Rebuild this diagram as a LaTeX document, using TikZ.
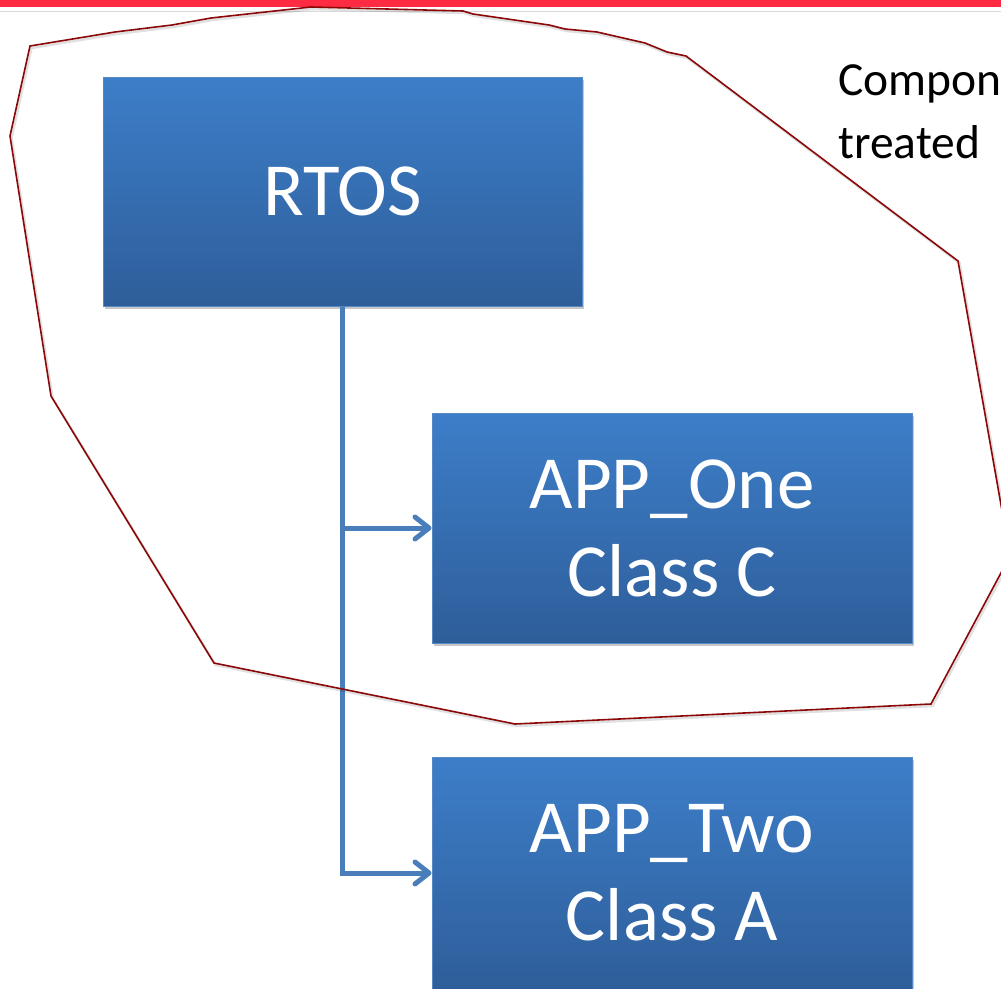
\documentclass[tikz,border=0pt]{standalone}
\usepackage{fontspec}
\setmainfont{Carlito}
\usetikzlibrary{arrows.meta,shadows}

\definecolor{barred}{RGB}{255,43,66}
\definecolor{rulegrey}{RGB}{217,217,217}
\definecolor{boxtop}{RGB}{61,126,201}
\definecolor{boxbottom}{RGB}{46,94,154}
\definecolor{boxedge}{RGB}{86,136,196}
\definecolor{linkblue}{RGB}{74,126,187}
\definecolor{hull}{RGB}{140,8,8}

\tikzset{
  block/.style={draw=boxedge, line width=1pt, top color=boxtop, bottom color=boxbottom,
    text=white, align=center, inner sep=0pt,
    font=\fontsize{75}{88}\selectfont,
    drop shadow={shadow xshift=2pt, shadow yshift=-3pt, opacity=0.22, fill=black}},
  link/.style={draw=linkblue, line width=5pt,
    -{Straight Barb[length=14pt, width=22pt, round]}},
  boundary/.style={draw=hull, line width=1.6pt, line join=miter},
  note/.style={anchor=base west, inner sep=0pt, text=black,
    font=\fontsize{47.5}{63}\selectfont}
}

\begin{document}
\begin{tikzpicture}[x=1pt, y=-1pt]
\useasboundingbox (0,0) rectangle (1001,988);
\fill[white] (0,0) rectangle (1001,988);
\clip (0,0) rectangle (1001,988);

% header strip and separator rule
\fill[barred] (0,0) rectangle (1001,6.5);
\draw[rulegrey, line width=1pt] (0,11) -- (1001,11);

% side note, running past the right edge
\node[note] (noteA) at (838,95) {Compon};
\node[note] (noteB) at (838,158) {treated};

% the three components
\node[block, minimum width=479pt, minimum height=229pt] (rtos) at (342.5,191.5) {RTOS};
\node[block, minimum width=480pt, minimum height=230pt] (app1) at (672,528) {APP\_One\\Class C};
\node[block, minimum width=480pt, minimum height=232pt] (app2) at (672,873) {APP\_Two\\Class A};

% connectors from the RTOS to the applications
\draw[link] (rtos.south) |- (app1.west);
\draw[link] (rtos.south) |- (app2.west);

% hand-drawn outline round the RTOS and APP_One
\draw[black, opacity=0.12, line width=2.5pt, shift={(1.5,2)}]
  (30,46) -- (115,32) -- (172,25) -- (211,18) -- (311,7) -- (463,11) -- (473,14)
  -- (549,25) -- (565,29) -- (597,32) -- (645,43) -- (667,52) -- (686,56)
  -- (958,261) -- (1010,556) -- (931,704) -- (515,724) -- (214,663)
  -- (51,396) -- (10,136) -- cycle;
\draw[boundary]
  (30,46) -- (115,32) -- (172,25) -- (211,18) -- (311,7) -- (463,11) -- (473,14)
  -- (549,25) -- (565,29) -- (597,32) -- (645,43) -- (667,52) -- (686,56)
  -- (958,261) -- (1010,556) -- (931,704) -- (515,724) -- (214,663)
  -- (51,396) -- (10,136) -- cycle;
\end{tikzpicture}
\end{document}
